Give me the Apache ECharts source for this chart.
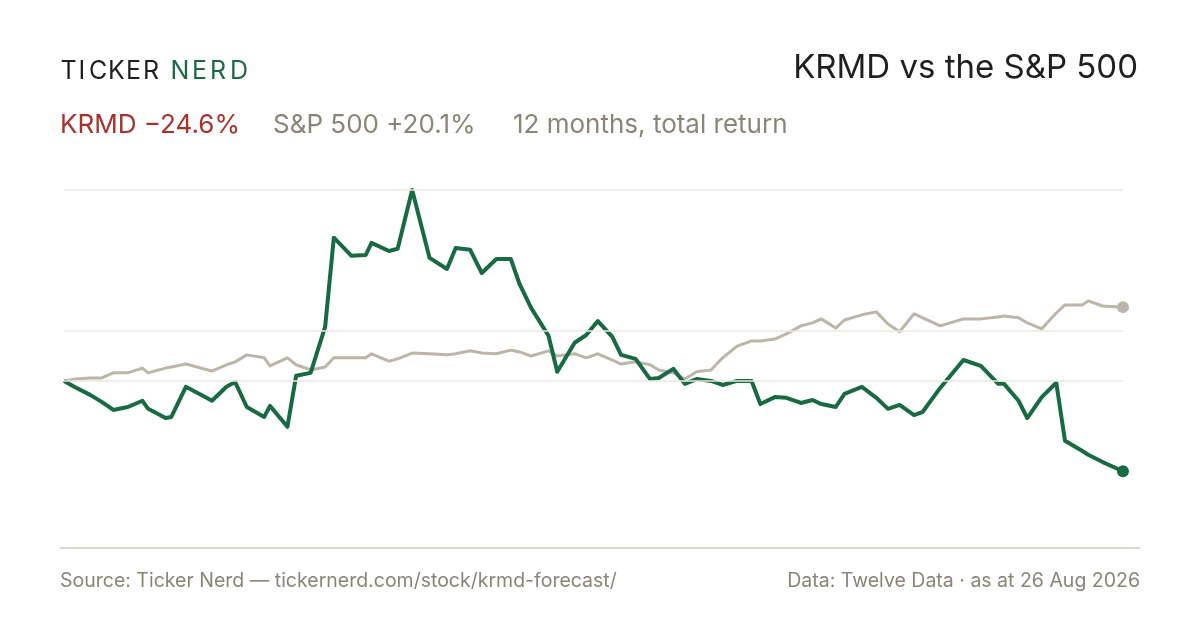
<!DOCTYPE html>
<html>
<head>
<meta charset="utf-8">
<script src="https://cdn.jsdelivr.net/npm/echarts@6/dist/echarts.min.js"></script>
<style>
	html, body { margin: 0; padding: 0; background: #fff; }
	#chart { width: 1200px; height: 630px; }
</style>
</head>
<body>
<div id="chart"></div>
<script>
// days since start of the 12 month window
var days = [0, 4, 9, 13, 17, 22, 27, 29, 35, 37, 42, 48, 51, 56, 59, 63, 69, 71, 77, 80,
	85, 90, 93, 99, 104, 106, 112, 115, 120, 126, 132, 135, 140, 144, 149, 154, 157, 161, 167, 170,
	176, 180, 184, 189, 192, 197, 202, 205, 210, 214, 218, 223, 227, 232, 237, 240, 245, 249, 254, 258,
	261, 266, 269, 275, 280, 284, 288, 293, 296, 302, 310, 316, 322, 324, 329, 332, 337, 342, 345, 351,
	353, 358, 365];

// total return, %
var krmd = [0, -1.8, -3.8, -5.7, -7.9, -7.1, -5.4, -7.6, -10.1, -9.8, -1.6, -4.1, -5.4, -1.6, -0.3, -7.1, -9.8, -6.8, -12.5, 1.4,
	2.2, 14.7, 39.0, 34.1, 34.3, 37.6, 35.4, 36.0, 52.0, 33.5, 30.5, 36.2, 35.7, 29.4, 33.2, 33.2, 26.4, 19.9, 12.3, 2.5,
	10.4, 12.5, 16.3, 12.0, 7.1, 6.0, 0.5, 0.8, 3.3, -0.8, 0.5, 0, -1.1, 0, 0, -6.3, -4.4, -4.6, -6.0, -5.2,
	-6.3, -7.1, -3.5, -1.6, -4.6, -7.6, -6.5, -9.3, -8.4, -1.9, 5.7, 4.1, -0.8, -0.8, -5.4, -10.1, -4.4, -0.5, -16.3, -19.1,
	-20.1, -22.1, -24.6];

var spx = [0, 0.5, 0.8, 0.8, 2.2, 2.2, 3.5, 2.2, 3.5, 3.8, 4.6, 3.3, 2.7, 4.4, 5.2, 7.1, 6.3, 4.1, 6.3, 4.4,
	3.0, 3.8, 6.3, 6.3, 6.3, 7.4, 5.4, 6.0, 7.6, 7.4, 7.1, 7.4, 8.2, 7.6, 7.4, 8.4, 7.9, 6.8, 8.2, 6.8,
	7.4, 6.3, 7.4, 5.7, 4.6, 5.2, 4.4, 3.0, 2.2, 0.5, 2.5, 3.0, 6.3, 9.5, 10.9, 10.9, 11.4, 12.8, 15.0, 15.8,
	16.9, 14.4, 16.6, 18.0, 18.8, 15.5, 13.4, 18.3, 17.2, 15.0, 16.9, 16.9, 17.4, 17.7, 17.2, 15.8, 14.2, 18.5, 20.7, 20.7,
	21.8, 20.4, 20.1];

// horizontal guide lines, %
var gridLevels = [0, 13.6, 52];

var GREEN = '#186a43';
var SAND = '#bcb5a9';
var MUTED = '#8b8579';

function pairs(xs, ys) {
	var out = [];
	for (var i = 0; i < xs.length; i++) {
		out.push([xs[i], ys[i]]);
	}
	return out;
}

var last = days.length - 1;
var chart = echarts.init(document.getElementById('chart'), null, { renderer: 'canvas' });

// logo letters, spaced out
var logo = [];
var logoLetters = 'TICKERNERD';
var logoX = [60.5, 78.5, 89, 108, 126, 143, 170.5, 192, 210, 230];
for (var i = 0; i < logoLetters.length; i++) {
	logo.push({
		type: 'text',
		left: logoX[i],
		top: 59,
		style: {
			text: logoLetters[i],
			font: '400 25px Inter',
			fill: i < 6 ? '#1f1f1f' : GREEN
		}
	});
}

var option = {
	animation: false,
	backgroundColor: '#fff',
	grid: { left: 64, right: 77, top: 190, bottom: 82 },
	xAxis: { type: 'value', min: 0, max: 365, show: false },
	yAxis: { type: 'value', min: -45.5, max: 52, show: false },
	series: [{
		name: 'S&P 500',
		type: 'line',
		z: 2,
		clip: false,
		data: pairs(days, spx),
		showSymbol: false,
		lineStyle: { color: SAND, width: 3, join: 'round' },
		markLine: {
			silent: true,
			symbol: 'none',
			label: { show: false },
			lineStyle: { color: '#ece9e2', width: 1.5, type: 'solid' },
			data: gridLevels.map(function(v) { return { yAxis: v }; })
		}
	}, {
		name: 'KRMD',
		type: 'line',
		z: 3,
		clip: false,
		data: pairs(days, krmd),
		showSymbol: false,
		lineStyle: { color: GREEN, width: 4, join: 'round' }
	}, {
		type: 'scatter',
		z: 4,
		clip: false,
		symbolSize: 12,
		itemStyle: { color: SAND, opacity: 1 },
		data: [[days[last], spx[last]]]
	}, {
		type: 'scatter',
		z: 4,
		clip: false,
		symbolSize: 12,
		itemStyle: { color: GREEN, opacity: 1 },
		data: [[days[last], krmd[last]]]
	}],
	graphic: logo.concat([{
		type: 'text',
		right: 62,
		top: 52,
		style: { text: 'KRMD vs the S&P 500', font: '400 33px Inter', fill: '#1f1f1f' }
	}, {
		type: 'text',
		left: 60,
		top: 112,
		style: { text: 'KRMD \u221224.6%', font: '400 26px Inter', fill: '#a8322b' }
	}, {
		type: 'text',
		left: 273,
		top: 112,
		style: { text: 'S&P 500 +20.1%', font: '400 26px Inter', fill: MUTED }
	}, {
		type: 'text',
		left: 513,
		top: 112,
		style: { text: '12 months, total return', font: '400 26px Inter', fill: MUTED }
	}, {
		type: 'line',
		shape: { x1: 60, y1: 548, x2: 1140, y2: 548 },
		style: { stroke: '#ddd8cd', lineWidth: 2 }
	}, {
		type: 'text',
		left: 60,
		top: 571,
		style: { text: 'Source: Ticker Nerd \u2014 tickernerd.com/stock/krmd-forecast/', font: '400 19.5px Inter', fill: MUTED }
	}, {
		type: 'text',
		right: 60,
		top: 571,
		style: { text: 'Data: Twelve Data \u00b7 as at 26 Aug 2026', font: '400 19.5px Inter', fill: MUTED }
	}])
};

chart.setOption(option);

window.onresize = function() {
	chart.resize();
};
</script>
</body>
</html>
